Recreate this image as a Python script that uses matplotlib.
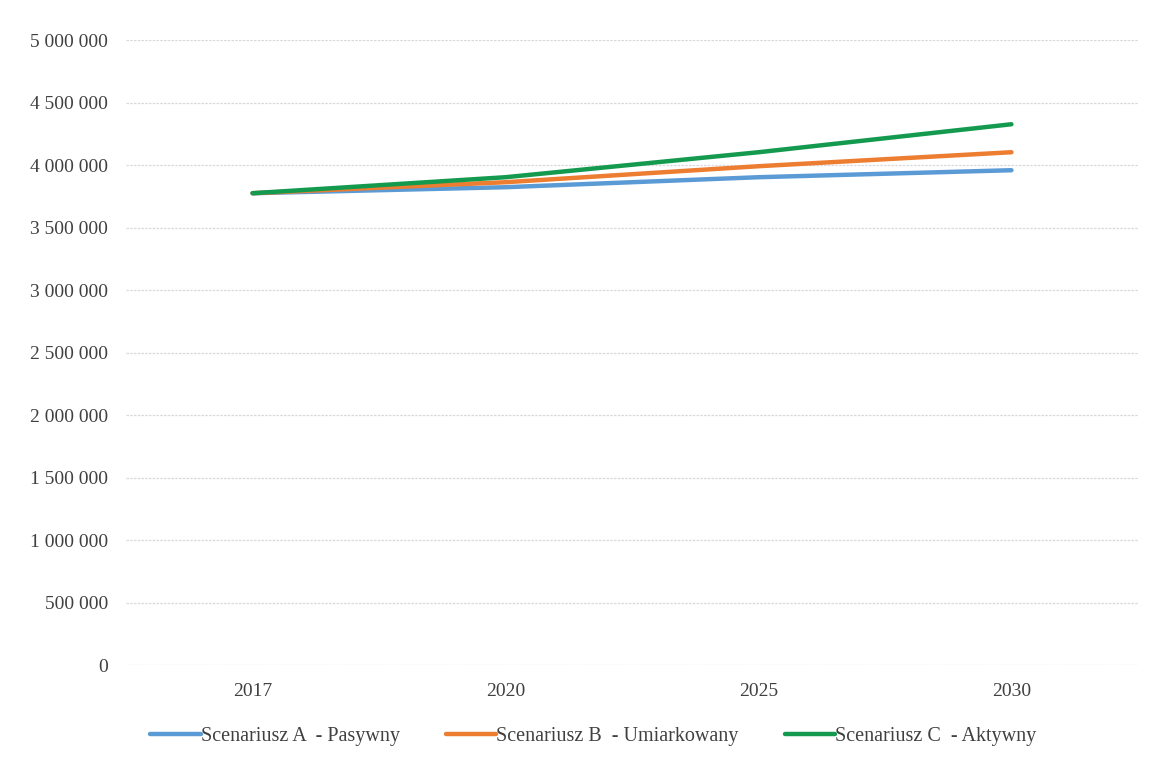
import matplotlib
matplotlib.use("Agg")
import matplotlib.pyplot as plt
from matplotlib.ticker import FuncFormatter

years = ["2017", "2020", "2025", "2030"]
scenario_a = [3776000, 3824000, 3904000, 3960000]
scenario_b = [3776000, 3864000, 3992000, 4104000]
scenario_c = [3776000, 3904000, 4104000, 4328000]
labels = ["Scenariusz A  - Pasywny", "Scenariusz B  - Umiarkowany", "Scenariusz C  - Aktywny"]
colors = ["#5b9bd5", "#ed7d31", "#149a4e"]

plt.rcParams['font.family'] = ['Liberation Serif', 'DejaVu Serif']

fig = plt.figure(figsize=(11.57, 7.6), dpi=100)
ax = fig.add_axes([0.109, 0.125, 0.8745, 0.822])

x = list(range(len(years)))
for vals, lab, col in zip([scenario_a, scenario_b, scenario_c], labels, colors):
    ax.plot(x, vals, color=col, linewidth=3.2, label=lab, solid_capstyle='round')

ax.set_xlim(-0.5, len(years) - 0.5)
ax.set_ylim(0, 5000000)
ax.set_yticks(range(0, 5000001, 500000))
ax.yaxis.set_major_formatter(FuncFormatter(lambda v, p: f"{int(v):,}".replace(",", " ")))
ax.set_xticks(x)
ax.set_xticklabels(years)
ax.grid(axis='y', color='#d9d9d9', linewidth=0.9, linestyle=(0, (2, 1)))
ax.set_axisbelow(True)
for s in ax.spines.values():
    s.set_visible(False)
ax.tick_params(axis='both', length=0, labelsize=14, colors='#404040')
ax.tick_params(axis='y', pad=13)
ax.tick_params(axis='x', pad=13)

leg = fig.legend(loc='center', bbox_to_anchor=(0.513, 0.031), ncol=3, frameon=False,
                 fontsize=14.5, handlelength=2.5, handletextpad=0.0, columnspacing=2.3)
for t in leg.get_texts():
    t.set_color('#404040')

fig.savefig("out.png", dpi=100)
